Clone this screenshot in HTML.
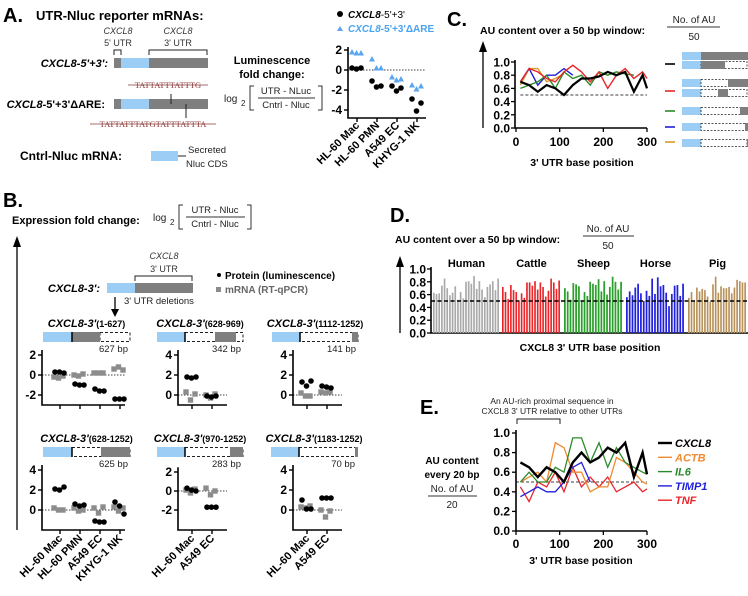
<!DOCTYPE html>
<html><head><meta charset="utf-8"><style>
html,body{margin:0;padding:0;background:#fff;}
svg{display:block;font-family:"Liberation Sans",Arial,sans-serif;}
.b{font-weight:bold;}
</style></head><body>
<svg id="fig" width="748" height="596" viewBox="0 0 748 596" xmlns="http://www.w3.org/2000/svg">
<g id="static">
<!-- Panel A -->
<text x="3" y="22" font-size="20" class="b">A.</text>
<text x="36" y="20" font-size="13" class="b">UTR-Nluc reporter mRNAs:</text>
<text x="118" y="34" font-size="9" font-style="italic" text-anchor="middle" fill="#333">CXCL8</text>
<text x="118" y="46" font-size="9" text-anchor="middle" fill="#333">5' UTR</text>
<text x="178" y="34" font-size="9" font-style="italic" text-anchor="middle" fill="#333">CXCL8</text>
<text x="178" y="46" font-size="9" text-anchor="middle" fill="#333">3' UTR</text>
<path d="M114,55 V50 H121 V55 M149,55 V50 H207 V55" fill="none" stroke="#222" stroke-width="1"/>
<text x="108" y="67" font-size="11" class="b" font-style="italic" text-anchor="end">CXCL8-5'+3':</text>
<rect x="114" y="58" width="7" height="10" fill="#7f7f7f"/><rect x="121" y="58" width="28" height="10" fill="#9bcdf5"/><rect x="149" y="58" width="59" height="10" fill="#7f7f7f"/>
<text x="168" y="88" font-size="8.5" font-family="Liberation Serif,serif" fill="#8b3a3a" text-anchor="middle">TATTATTTATTTG</text>
<line x1="128" y1="85" x2="208" y2="85" stroke="#8b3a3a" stroke-width="0.7"/>
<text x="105" y="108" font-size="11" class="b" text-anchor="end"><tspan font-style="italic">CXCL8</tspan>-5'+3'ΔARE:</text>
<rect x="114" y="99" width="7" height="10" fill="#7f7f7f"/><rect x="121" y="99" width="28" height="10" fill="#9bcdf5"/><rect x="149" y="99" width="59" height="10" fill="#7f7f7f"/>
<line x1="171" y1="94" x2="171" y2="104" stroke="#222"/><line x1="186" y1="104" x2="186" y2="118" stroke="#222"/>
<text x="153" y="127" font-size="8.5" font-family="Liberation Serif,serif" fill="#8b3a3a" text-anchor="middle">TATTATTTATGTATTTATTTA</text>
<line x1="90" y1="124" x2="216" y2="124" stroke="#8b3a3a" stroke-width="0.7"/>
<text x="20" y="160" font-size="12" class="b">Cntrl-Nluc mRNA:</text>
<rect x="151" y="151" width="27" height="10" fill="#9bcdf5"/><line x1="178" y1="156" x2="186" y2="156" stroke="#222"/>
<text x="188" y="153" font-size="9.5" fill="#222">Secreted</text><text x="186" y="167" font-size="9.5" fill="#222">Nluc CDS</text>
<text x="272" y="64" font-size="11" class="b" text-anchor="middle">Luminescence</text>
<text x="272" y="78" font-size="11" class="b" text-anchor="middle">fold change:</text>
<text x="224" y="102" font-size="10" fill="#222">log</text><text x="241" y="106" font-size="8" fill="#222">2</text>
<path d="M254,86 H250 V110 H254 M318,86 H322 V110 H318" fill="none" stroke="#333"/>
<text x="286" y="94" font-size="9.5" text-anchor="middle" fill="#222">UTR - NLuc</text><line x1="258" y1="98" x2="315" y2="98" stroke="#333"/>
<text x="286" y="108" font-size="9.5" text-anchor="middle" fill="#222">Cntrl - Nluc</text>
<circle cx="340" cy="14" r="3" fill="#000"/><text x="348" y="18" font-size="10"><tspan font-style="italic" font-weight="bold">CXCL8</tspan>-5'+3'</text>
<path d="M337,31 L340,26 L343,31 Z" fill="#5aa6ef"/><text x="348" y="32" font-size="10" fill="#4aa3ef" class="b"><tspan font-style="italic">CXCL8</tspan>-5'+3'ΔARE</text>

<!-- Panel B -->
<text x="3" y="207" font-size="20" class="b">B.</text>
<text x="12" y="224" font-size="11" class="b">Expression fold change:</text>
<text x="153" y="221" font-size="10" fill="#222">log</text><text x="170" y="225" font-size="8" fill="#222">2</text>
<path d="M183,205 H179 V229 H183 M247,205 H251 V229 H247" fill="none" stroke="#333"/>
<text x="215" y="213" font-size="9.5" text-anchor="middle" fill="#222">UTR - Nluc</text><line x1="186" y1="217" x2="245" y2="217" stroke="#333"/>
<text x="215" y="227" font-size="9.5" text-anchor="middle" fill="#222">Cntrl - Nluc</text>
<line x1="17" y1="245" x2="17" y2="530" stroke="#000" stroke-width="1.3"/>
<path d="M13,247 L17,236 L21,247 Z" fill="#000"/>
<text x="164" y="259" font-size="9" font-style="italic" text-anchor="middle" fill="#333">CXCL8</text>
<text x="164" y="272" font-size="9" text-anchor="middle" fill="#333">3' UTR</text>
<path d="M135,281 V276 H192 V281" fill="none" stroke="#222"/>
<text x="100" y="292" font-size="11" class="b" font-style="italic" text-anchor="end">CXCL8-3':</text>
<rect x="107" y="283" width="28" height="10" fill="#9bcdf5"/><rect x="135" y="283" width="58" height="10" fill="#7f7f7f"/>
<circle cx="219" cy="275" r="2" fill="#000"/><text x="225" y="279" font-size="10" class="b">Protein (luminescence)</text>
<rect x="216" y="287" width="5" height="5" fill="#8c8c8c"/><text x="225" y="293" font-size="10" class="b" fill="#666">mRNA (RT-qPCR)</text>
<line x1="115" y1="297" x2="115" y2="310" stroke="#000" stroke-width="1.3"/><path d="M111,309 L115,317 L119,309 Z" fill="#000"/>
<text x="124" y="304" font-size="9.5" fill="#222">3' UTR deletions</text>

<!-- Panel C -->
<text x="447" y="26" font-size="20" class="b">C.</text>
<text x="480" y="34" font-size="10.5" class="b">AU content over a 50 bp window:</text>
<text x="694" y="23" font-size="10" text-anchor="middle" fill="#222">No. of AU</text><line x1="667" y1="27" x2="720" y2="27" stroke="#333"/>
<text x="694" y="40" font-size="10" text-anchor="middle" fill="#222">50</text>
<line x1="483" y1="50" x2="483" y2="128" stroke="#000" stroke-width="1.3"/><path d="M479,52 L483,41 L487,52 Z" fill="#000"/>
<text x="582" y="166" font-size="10.5" class="b" text-anchor="middle">3' UTR base position</text>

<!-- Panel D -->
<text x="390" y="222" font-size="20" class="b">D.</text>
<text x="395" y="243" font-size="10.5" class="b">AU content over a 50 bp window:</text>
<text x="608" y="232" font-size="10" text-anchor="middle" fill="#222">No. of AU</text><line x1="583" y1="236" x2="634" y2="236" stroke="#333"/>
<text x="608" y="249" font-size="10" text-anchor="middle" fill="#222">50</text>
<line x1="400" y1="265" x2="400" y2="333" stroke="#000" stroke-width="1.3"/><path d="M396,267 L400,256 L404,267 Z" fill="#000"/>
<text x="590" y="351" font-size="10.5" class="b" text-anchor="middle">CXCL8 3' UTR base position</text>

<!-- Panel E -->
<text x="420" y="414" font-size="20" class="b">E.</text>
<text x="552" y="404" font-size="8.5" text-anchor="middle" fill="#222">An AU-rich proximal sequence in</text>
<text x="552" y="414" font-size="8.5" text-anchor="middle" fill="#222">CXCL8 3' UTR relative to other UTRs</text>
<path d="M517,424 V419 H560 V424" fill="none" stroke="#222"/>
<text x="452" y="464" font-size="10" class="b" text-anchor="middle">AU content</text>
<text x="452" y="478" font-size="10" class="b" text-anchor="middle">every 20 bp</text>
<text x="452" y="492" font-size="10" text-anchor="middle" fill="#222">No. of AU</text><line x1="428" y1="496" x2="477" y2="496" stroke="#333"/>
<text x="452" y="508" font-size="10" text-anchor="middle" fill="#222">20</text>
<text x="581" y="564" font-size="10.5" class="b" text-anchor="middle">3' UTR base position</text>
</g>
<g id="dyn"></g>
</svg>
<script>
// ---------- Panel A data ----------
const aCats = ["HL-60 Mac","HL-60 PMN","A549 EC","KHYG-1 NK"];
const aWt = [[0.2,0.1,0.2],[-1.1,-1.7,-1.6],[-1.6,-2.1,-1.8],[-2.9,-4.1,-3.3]];
const aDare = [[1.8,1.7,1.7],[1.1,0.2,0.2],[-0.7,-1.0,-0.9],[-1.5,-1.9,-1.6]];
const aTicks = [2,0,-2,-4];
const aTickLabels = ["2","0","-2","-4"];

// ---------- Panel B data ----------
const bCats4 = ["HL-60 Mac","HL-60 PMN","A549 EC","KHYG-1 NK"];
const bCats2 = ["HL-60 Mac","A549 EC"];
const bTitles = ["(1-627)","(628-969)","(1112-1252)","(628-1252)","(970-1252)","(1183-1252)"];
const bBp = ["627 bp","342 bp","141 bp","625 bp","283 bp","70 bp"];
const bProt1 = [[0.3,0.3,0.2],[-0.9,-1.0,-1.0],[-1.4,-1.6,-1.6],[-2.4,-2.4,-2.4]];
const bMrna1 = [[-0.2,-0.3,-0.1],[0.0,-0.1,0.1],[0.2,0.2,0.2],[0.6,0.8,0.5]];
const bProt2 = [[1.8,1.7,1.8],[-0.1,-0.2,-0.1]];
const bMrna2 = [[0.3,-0.5,0.1],[0.0,-0.3,0.1]];
const bProt3 = [[1.3,0.9,1.4],[0.9,0.8,0.7]];
const bMrna3 = [[0.2,-0.1,-0.1],[0.3,0.2,0.3]];
const bProt4 = [[2.1,2.0,2.3],[0.6,0.4,0.5],[-1.1,-1.2,-1.2],[0.8,0.4,-0.4]];
const bMrna4 = [[0.2,0.0,0.0],[0.2,-0.1,0.0],[0.2,-0.3,0.3],[0.3,-0.1,0.2]];
const bProt5 = [[0.3,0.1,0.0],[-1.7,-1.7,-1.7]];
const bMrna5 = [[0.1,-0.2,0.2],[0.3,-0.4,0.0]];
const bProt6 = [[1.0,0.1,0.1],[1.2,1.2,1.2]];
const bMrna6 = [[0.3,0.2,0.4],[0.0,-0.7,-0.1]];
const bTicksA = [2,0,-2];
const bTicksB = [4,2,0];

// ---------- Panel C data ----------
const cX = [10,30,50,70,90,110,130,150,170,190,210,230,250,270,290,300];
const cBlack = [0.7,0.65,0.55,0.65,0.6,0.5,0.65,0.75,0.75,0.78,0.85,0.8,0.85,0.55,0.8,0.6];
const cRed = [0.7,0.9,0.85,0.75,0.7,0.85,0.95,0.85,0.7,0.85,0.6,0.8,0.9,0.75,0.85,0.75];
const cGreen = [0.6,0.65,0.7,0.8,0.6,0.85,0.75,0.8,0.65,0.85,0.8,0.85,0.82,0.8];
const cBlue = [0.7,0.9,0.65,0.8,0.8,0.9,0.8];
const cOrange = [0.65,0.9,0.9,0.7,0.75,0.82];
const cYTicks = [1.0,0.8,0.6,0.4,0.2,0.0];
const cXTicks = [0,100,200,300];

// ---------- Panel D data ----------
const dSpecies = ["Human","Cattle","Sheep","Horse","Pig"];
const dHuman = [0.63,0.61,0.62,0.74,0.85,0.70,0.59,0.63,0.73,0.52,0.64,0.54,0.80,0.81,0.77,0.89,0.69,0.81,0.68,0.56,0.72,0.76,0.81,0.67,0.85];
const dCattle = [0.72,0.64,0.53,0.75,0.67,0.64,0.49,0.62,0.55,0.79,0.79,0.74,0.81,0.68,0.79,0.72,0.57,0.66,0.85,0.79,0.69,0.82];
const dSheep = [0.70,0.65,0.52,0.78,0.76,0.73,0.51,0.64,0.58,0.80,0.77,0.75,0.84,0.65,0.81,0.60,0.72,0.88,0.80,0.68,0.80];
const dHorse = [0.56,0.65,0.59,0.71,0.77,0.62,0.50,0.66,0.58,0.85,0.61,0.87,0.73,0.75,0.63,0.42,0.61,0.74,0.75,0.58,0.77];
const dPig = [0.55,0.64,0.51,0.71,0.65,0.69,0.67,0.57,0.49,0.76,0.88,0.63,0.73,0.70,0.70,0.72,0.62,0.71,0.83,0.81,0.79,0.79];
const dYTicks = [1.0,0.8,0.6,0.4,0.2,0.0];

// ---------- Panel E data ----------
const eX = [10,30,50,70,90,110,130,150,170,190,210,230,250,270,290,300];
const eCXCL8 = [0.7,0.65,0.55,0.65,0.6,0.5,0.7,0.8,0.7,0.75,0.85,0.8,0.9,0.55,0.8,0.58];
const eACTB = [0.5,0.55,0.6,0.5,0.9,0.85,0.6,0.6,0.4,0.45,0.45,0.75,0.7,0.6,0.5,0.48];
const eIL6 = [0.5,0.6,0.5,0.5,0.65,0.6,0.95,0.95,0.7,0.9,0.65,0.85,0.7,0.65,0.6,0.58];
const eTIMP1 = [0.35,0.4,0.45,0.4,0.4,0.5,0.65,0.7,0.5];
const eTNF = [0.45,0.3,0.5,0.45,0.6,0.4,0.65,0.45,0.55,0.45,0.55,0.4,0.45,0.5,0.4,0.43];
const eNames = ["CXCL8","ACTB","IL6","TIMP1","TNF"];
const eYTicks = [1.0,0.8,0.6,0.4,0.2,0.0];
const eXTicks = [0,100,200,300];

const NS = "http://www.w3.org/2000/svg";
const root = document.getElementById('dyn');
function mk(tag, attrs, parent){
  const e = document.createElementNS(NS, tag);
  for (const k in attrs) e.setAttribute(k, attrs[k]);
  (parent||root).appendChild(e);
  return e;
}
function txt(x,y,s,size,extra){
  const t = mk('text', Object.assign({x:x,y:y,'font-size':size}, extra||{}));
  t.textContent = s;
  return t;
}
function lin(d0,d1,r0,r1){ return v => r0 + (v-d0)/(d1-d0)*(r1-r0); }

// ---------- Panel A chart ----------
(function(){
  const y = lin(0,2,70,50);
  const x0 = 357, dx = 20;
  const ax = mk('path',{d:`M348,${y(2.3)} V118 H426`,fill:'none',stroke:'#000','stroke-width':1.6});
  
  
  aTicks.forEach((t,i)=>{
    mk('line',{x1:344,x2:348,y1:y(t),y2:y(t),stroke:'#000','stroke-width':1.4});
    const l = txt(342,y(t)+4,aTickLabels[i],12,{'text-anchor':'end','font-weight':'bold'});
    
    
  });
  mk('line',{x1:348,x2:426,y1:y(0),y2:y(0),stroke:'#000','stroke-width':0.8,'stroke-dasharray':'1.5,1.5'});
  aCats.forEach((c,i)=>{
    const cx = x0+i*dx;
    mk('line',{x1:cx,x2:cx,y1:118,y2:122,stroke:'#000','stroke-width':1.4});
    const l = txt(cx+3,126,c,11,{'text-anchor':'end','font-weight':'bold',transform:`rotate(-45 ${cx+3} 126)`});
    
    
    aWt[i].forEach((v,j)=>{
      const p = mk('circle',{cx:cx-5+j*4.5,cy:y(v),r:2.8,fill:'#000'});
      
      
    });
    aDare[i].forEach((v,j)=>{
      const px = cx-5+j*4.5, py = y(v);
      const p = mk('path',{d:`M${px-3},${py+2.5} L${px},${py-3} L${px+3},${py+2.5} Z`,fill:'#5aa6ef'});
      
      
    });
  });
})();

// ---------- Panel B charts ----------
const bCharts = [
  {ax:42, zero:375, top:2.5, bottom:405, cats:bCats4, prot:bProt1, mrna:bMrna1, ticks:bTicksA, bar:[43,72,72,100,100,130], title:0, ty:327, by:332},
  {ax:178, zero:395, top:4.5, bottom:405, cats:bCats2, prot:bProt2, mrna:bMrna2, ticks:bTicksB, bar:[157,185,215,236,185,243], title:1, ty:327, by:332},
  {ax:293, zero:395, top:4.5, bottom:405, cats:bCats2, prot:bProt3, mrna:bMrna3, ticks:bTicksB, bar:[272,300,352,358,300,358], title:2, ty:327, by:332},
  {ax:42, zero:510, top:4.5, bottom:530, cats:bCats4, prot:bProt4, mrna:bMrna4, ticks:bTicksB, bar:[43,72,101,130,72,130], title:3, ty:442, by:447},
  {ax:178, zero:491, top:2.5, bottom:530, cats:bCats2, prot:bProt5, mrna:bMrna5, ticks:bTicksA, bar:[157,185,230,243,185,243], title:4, ty:442, by:447},
  {ax:293, zero:510, top:4.5, bottom:530, cats:bCats2, prot:bProt6, mrna:bMrna6, ticks:bTicksB, bar:[271,299,355,358,299,357], title:5, ty:442, by:447}
];
bCharts.forEach((c,ci)=>{
  const y = v => c.zero - v*(ci==4?9.5:10);
  const n = c.cats.length;
  const tx0 = c.ax + (n==4?18:14), tdx = 20;
  const xEnd = c.ax + (n==4?83:49);
  const mid = (c.bar[0]+c.bar[5])/2;
  const t = mk('text',{x:mid,y:c.ty,'font-size':11,'font-weight':'bold','text-anchor':'middle'});
  
  
  const ts1 = mk('tspan',{'font-style':'italic'},t); ts1.textContent = "CXCL8-3'";
  const ts2 = mk('tspan',{'font-size':9},t); ts2.textContent = bTitles[c.title];
  mk('rect',{x:c.bar[0],y:c.by,width:c.bar[1]-c.bar[0],height:10,fill:'#9bcdf5'});
  mk('rect',{x:c.bar[4],y:c.by+0.5,width:c.bar[5]-c.bar[4],height:9,fill:'none',stroke:'#222','stroke-width':1,'stroke-dasharray':'3,2'});
  mk('rect',{x:c.bar[2],y:c.by,width:c.bar[3]-c.bar[2],height:10,fill:'#7f7f7f'});
  mk('line',{x1:c.bar[1],x2:c.bar[1],y1:c.by,y2:c.by+10,stroke:'#000','stroke-width':1.5});
  txt(c.bar[5]-2,c.by+20,bBp[c.title],9.5,{'text-anchor':'end',fill:'#222'});
  const ax = mk('path',{d:`M${c.ax},${y(c.top)} V${c.bottom} H${xEnd}`,fill:'none',stroke:'#000','stroke-width':1.6});
  
  
  c.ticks.forEach(tv=>{
    mk('line',{x1:c.ax-4,x2:c.ax,y1:y(tv),y2:y(tv),stroke:'#000','stroke-width':1.4});
    txt(c.ax-6,y(tv)+4,String(tv),12,{'text-anchor':'end','font-weight':'bold'});
  });
  mk('line',{x1:c.ax,x2:xEnd,y1:y(0),y2:y(0),stroke:'#000','stroke-width':0.8,'stroke-dasharray':'1.5,1.5'});
  c.cats.forEach((cat,i)=>{
    const cx = tx0 + i*tdx;
    mk('line',{x1:cx,x2:cx,y1:c.bottom,y2:c.bottom+4,stroke:'#000','stroke-width':1.4});
    if (ci>=3){
      const l = txt(cx+3,c.bottom+9,cat,11,{'text-anchor':'end','font-weight':'bold',transform:`rotate(-45 ${cx+3} ${c.bottom+9})`});
      
      
    }
    c.mrna[i].forEach((v,j)=>{
      const s = mk('rect',{x:cx-6+j*4.5-2.7,y:y(v)-2.7,width:5.4,height:5.4,fill:'#8c8c8c'});
      
      
    });
    c.prot[i].forEach((v,j)=>{
      const p = mk('circle',{cx:cx-5+j*4.5,cy:y(v),r:2.8,fill:'#000'});
      
      
    });
  });
});

// ---------- Panel C chart ----------
(function(){
  const x = lin(0,300,516,647), y = lin(0,1,128,62);
  const ax = mk('path',{d:`M515,60 V128 H647`,fill:'none',stroke:'#000','stroke-width':1.6});
  
  
  cYTicks.forEach(t=>{
    mk('line',{x1:511,x2:515,y1:y(t),y2:y(t),stroke:'#000','stroke-width':1.3});
    const l = txt(510,y(t)+4.5,t.toFixed(1),12,{'text-anchor':'end','font-weight':'bold'});
    
    
  });
  cXTicks.forEach(t=>{
    mk('line',{x1:x(t),x2:x(t),y1:128,y2:132,stroke:'#000','stroke-width':1.3});
    const l = txt(x(t),146,String(t),12,{'text-anchor':'middle','font-weight':'bold'});
    
    
  });
  mk('line',{x1:x(10),x2:x(300),y1:y(0.5),y2:y(0.5),stroke:'#000','stroke-width':0.8,'stroke-dasharray':'3,2'});
  const ser = [[cOrange,'#d99a2b'],[cBlue,'#1f1fd9'],[cGreen,'#2b8a2b'],[cRed,'#e8262a'],[cBlack,'#000']];
  ser.forEach(([vals,col])=>{
    const d = vals.map((v,i)=>(i?'L':'M')+x(cX[i]).toFixed(1)+','+y(v).toFixed(1)).join(' ');
    const p = mk('path',{d:d,fill:'none',stroke:col,'stroke-width':col=='#000'?2.2:1.4});
    
    
  });
  const rows = [[56,'solid',701,748],[65,'dash',701,725],[83,'dash',728,748],[93,'dash',718,728],[111,'dash',740,748],[127,'dash',745,748],[143,'dash',747,748]];
  rows.forEach(r=>{
    mk('rect',{x:682,y:r[0]-4,width:19,height:8,fill:'#9bcdf5'});
    if (r[1]=='solid') mk('rect',{x:701,y:r[0]-4,width:47,height:8,fill:'#7f7f7f'});
    else {
      mk('rect',{x:701,y:r[0]-3.5,width:46,height:7,fill:'none',stroke:'#222','stroke-dasharray':'2,1.5','stroke-width':0.8});
      mk('rect',{x:r[2],y:r[0]-4,width:r[3]-r[2],height:8,fill:'#7f7f7f'});
    }
  });
  [[64,'#000'],[91,'#e8262a'],[111,'#2b8a2b'],[127,'#1f1fd9'],[142,'#d99a2b']].forEach(d=>{
    const l = mk('line',{x1:665,x2:675,y1:d[0],y2:d[0],stroke:d[1],'stroke-width':1.6});
    
    
  });
})();

// ---------- Panel D chart ----------
(function(){
  const y = lin(0,1,333,269);
  const ax = mk('path',{d:`M431,267 V333 H748`,fill:'none',stroke:'#000','stroke-width':1.6});
  
  
  dYTicks.forEach(t=>{
    mk('line',{x1:427,x2:431,y1:y(t),y2:y(t),stroke:'#000','stroke-width':1.3});
    const l = txt(426,y(t)+4.5,t.toFixed(1),12,{'text-anchor':'end','font-weight':'bold'});
    
    
  });
  const groups = [[dHuman,'#a9a9a9'],[dCattle,'#e8262a'],[dSheep,'#2ca02c'],[dHorse,'#2222dd'],[dPig,'#b8925a']];
  const starts = [433,502,564,626,688];
  const ends = [500,561,623,685,747];
  groups.forEach(([vals,col],g)=>{
    const pitch = (ends[g]-starts[g])/vals.length;
    vals.forEach((v,i)=>{
      const b = mk('rect',{x:starts[g]+i*pitch,y:y(v),width:pitch*0.62,height:333-y(v),fill:col});
      
      
    });
    const l = txt((starts[g]+ends[g])/2,267,dSpecies[g],11,{'text-anchor':'middle','font-weight':'bold'});
    
    
  });
  mk('line',{x1:431,x2:748,y1:y(0.5),y2:y(0.5),stroke:'#000','stroke-width':1.4,'stroke-dasharray':'4,2.5'});
})();

// ---------- Panel E chart ----------
(function(){
  const x = lin(0,300,516,647), y = lin(0,1,531,433);
  const ax = mk('path',{d:`M516,430 V531 H647`,fill:'none',stroke:'#000','stroke-width':1.6});
  
  
  eYTicks.forEach(t=>{
    mk('line',{x1:512,x2:516,y1:y(t),y2:y(t),stroke:'#000','stroke-width':1.3});
    const l = txt(510,y(t)+4,t.toFixed(1),12,{'text-anchor':'end','font-weight':'bold'});
    
    
  });
  eXTicks.forEach(t=>{
    mk('line',{x1:x(t),x2:x(t),y1:531,y2:535,stroke:'#000','stroke-width':1.3});
    const l = txt(x(t),548,String(t),12,{'text-anchor':'middle','font-weight':'bold'});
    
    
  });
  mk('line',{x1:x(0),x2:x(300),y1:y(0.5),y2:y(0.5),stroke:'#000','stroke-width':0.8,'stroke-dasharray':'3,2'});
  const ser = [[eTNF,'#e8262a',1.3],[eTIMP1,'#1f1fd9',1.3],[eACTB,'#f08a30',1.3],[eIL6,'#2b8a2b',1.3],[eCXCL8,'#000',2.4]];
  ser.forEach(([vals,col,w])=>{
    const d = vals.map((v,i)=>(i?'L':'M')+x(eX[i]).toFixed(1)+','+y(v).toFixed(1)).join(' ');
    const p = mk('path',{d:d,fill:'none',stroke:col,'stroke-width':w});
    
    
  });
  const lc = ['#000','#f08a30','#2b8a2b','#1f1fd9','#e8262a'];
  eNames.forEach((n,i)=>{
    const yy = 443 + i*14.3;
    mk('line',{x1:658,x2:672,y1:yy,y2:yy,stroke:lc[i],'stroke-width':i==0?2.4:1.4});
    const l = txt(675,yy+4,n,11,{'font-weight':'bold','font-style':'italic',fill:lc[i]});
    
    
  });
})();
</script>
</body></html>
